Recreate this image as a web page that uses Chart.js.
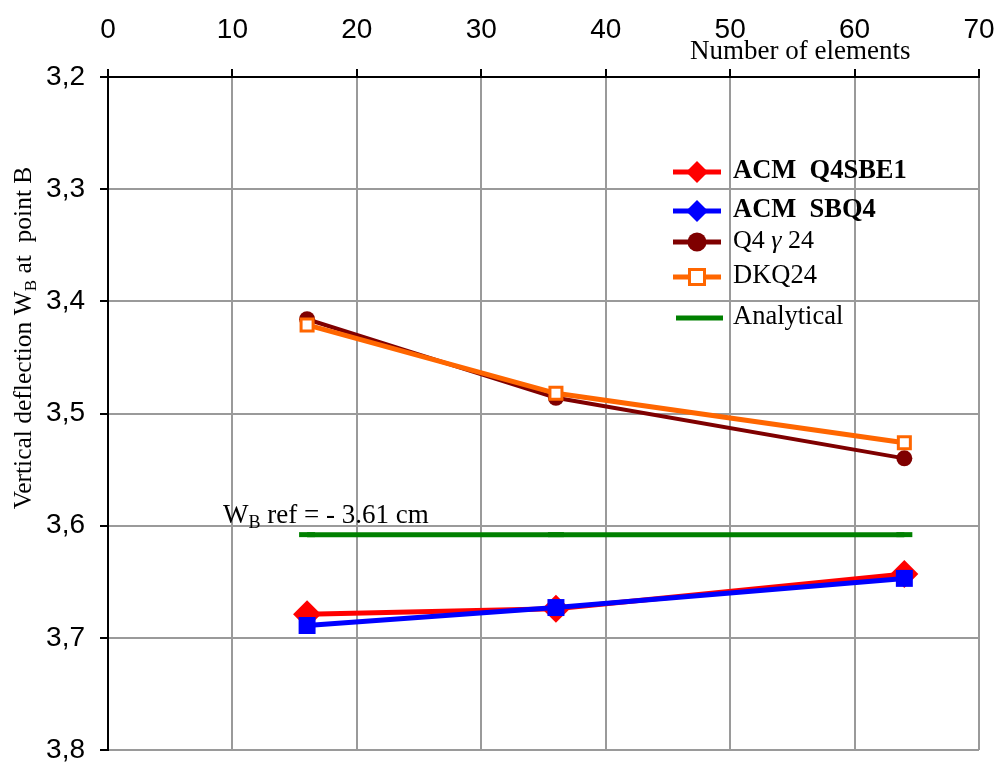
<!DOCTYPE html>
<html><head><meta charset="utf-8">
<script src="https://cdn.jsdelivr.net/npm/chart.js@4"></script>
<style>html,body{margin:0;padding:0;background:#fff}canvas{display:block}</style>
</head><body>
<canvas id="c" width="998" height="764"></canvas>
<script>
// ---- data ----
const elements = [16, 36, 64];
const seriesNames = ['ACM  Q4SBE1', 'ACM  SBQ4', 'Q4 γ 24', 'DKQ24', 'Analytical'];
const acmQ4SBE1 = [3.679, 3.674, 3.643];
const acmSBQ4 = [3.689, 3.673, 3.647];
const q4g24 = [3.416, 3.486, 3.540];
const dkq24 = [3.421, 3.482, 3.526];
const analytical = [3.608, 3.608, 3.608];
const xTickValues = [0, 10, 20, 30, 40, 50, 60, 70];
const yTickLabels = ['3,2', '3,3', '3,4', '3,5', '3,6', '3,7', '3,8'];
const xTitle = 'Number of elements';
const yTitleParts = ['Vertical deflection W', 'B', ' at  point B'];
const refNoteParts = ['W', 'B', ' ref = - 3.61 cm'];

const pts = arr => elements.map((x, i) => ({x: x, y: arr[i]}));
const SERIF = '"Liberation Serif","Times New Roman",serif';
const SANS = '"Liberation Sans",Arial,sans-serif';

const colors = ['#ff0000', '#0000ff', '#7f0000', '#ff6600', '#008000'];

const datasets = [
  {label: seriesNames[0], data: pts(acmQ4SBE1), borderColor: colors[0], backgroundColor: colors[0],
   borderWidth: 5, pointStyle: 'rectRot', pointRadius: 14, pointBorderWidth: 0, order: 5},
  {label: seriesNames[1], data: pts(acmSBQ4), borderColor: colors[1], backgroundColor: colors[1],
   borderWidth: 5, pointStyle: 'rect', pointRadius: 12, pointBorderWidth: 0, order: 4},
  {label: seriesNames[2], data: pts(q4g24), borderColor: colors[2], backgroundColor: colors[2],
   borderWidth: 4, pointStyle: 'circle', pointRadius: 8, pointBorderWidth: 0, order: 3},
  {label: seriesNames[3], data: pts(dkq24), borderColor: colors[3], backgroundColor: '#ffffff',
   pointBorderColor: colors[3], borderWidth: 5, pointStyle: 'rect', pointRadius: 8.5, pointBorderWidth: 3, order: 2},
  {label: seriesNames[4], data: pts(analytical), borderColor: colors[4], backgroundColor: colors[4],
   pointBorderColor: colors[4], borderWidth: 5, pointStyle: 'line', pointRadius: 8, pointBorderWidth: 5, order: 1}
];

function drawRich(ctx, parts, fontSize, subSize, subShift, x, y) {
  let cx = x;
  ctx.font = fontSize + 'px ' + SERIF;
  ctx.fillText(parts[0], cx, y); cx += ctx.measureText(parts[0]).width;
  ctx.font = subSize + 'px ' + SERIF;
  ctx.fillText(parts[1], cx, y + subShift); cx += ctx.measureText(parts[1]).width;
  ctx.font = fontSize + 'px ' + SERIF;
  ctx.fillText(parts[2], cx, y);
}
function richWidth(ctx, parts, fontSize, subSize) {
  ctx.font = fontSize + 'px ' + SERIF;
  let w = ctx.measureText(parts[0]).width + ctx.measureText(parts[2]).width;
  ctx.font = subSize + 'px ' + SERIF;
  return w + ctx.measureText(parts[1]).width;
}

function drawMarker(ctx, style, x, y, color) {
  ctx.save();
  ctx.fillStyle = color; ctx.strokeStyle = color;
  if (style === 'diamond') {
    const r = 11;
    ctx.beginPath(); ctx.moveTo(x, y - r); ctx.lineTo(x + r, y); ctx.lineTo(x, y + r); ctx.lineTo(x - r, y); ctx.closePath(); ctx.fill();
  } else if (style === 'circle') {
    ctx.beginPath(); ctx.arc(x, y, 9.5, 0, Math.PI * 2); ctx.fill();
  } else if (style === 'openSquare') {
    ctx.fillStyle = '#fff'; ctx.lineWidth = 3;
    ctx.fillRect(x - 7.5, y - 7.5, 15, 15); ctx.strokeRect(x - 7.5, y - 7.5, 15, 15);
  }
  ctx.restore();
}

const overlay = {
  id: 'overlay',
  afterDraw(chart) {
    const ctx = chart.ctx;
    ctx.save();
    ctx.fillStyle = '#000';
    ctx.textBaseline = 'alphabetic';
    ctx.textAlign = 'left';
    ctx.font = '27px ' + SERIF;
    ctx.fillText(xTitle, 690, 59);
    drawRich(ctx, refNoteParts, 27, 18, 5, 223, 523);
    ctx.save();
    ctx.translate(31, 338);
    ctx.rotate(-Math.PI / 2);
    const w = richWidth(ctx, yTitleParts, 25.5, 17);
    drawRich(ctx, yTitleParts, 25.5, 17, 5, -w / 2, 0);
    ctx.restore();
    const rows = [172, 211, 242, 277, 318];
    const styles = ['diamond', 'diamond', 'circle', 'openSquare', null];
    for (let i = 0; i < 5; i++) {
      const y = rows[i];
      ctx.strokeStyle = colors[i]; ctx.lineWidth = 5; ctx.lineCap = 'butt';
      ctx.beginPath(); ctx.moveTo(i === 4 ? 676 : 673, y); ctx.lineTo(i === 4 ? 723 : 721, y); ctx.stroke();
      if (styles[i]) drawMarker(ctx, styles[i], 697, y, colors[i]);
      ctx.fillStyle = '#000';
      const bold = i < 2 ? 'bold ' : '';
      const name = seriesNames[i];
      if (name.indexOf('γ') >= 0) {
        const segs = name.split('γ');
        let cx = 733;
        ctx.font = '26px ' + SERIF; ctx.fillText(segs[0], cx, y + 6); cx += ctx.measureText(segs[0]).width;
        ctx.font = 'italic 26px ' + SERIF; ctx.fillText('γ', cx, y + 6); cx += ctx.measureText('γ').width;
        ctx.font = '26px ' + SERIF; ctx.fillText(segs[1], cx, y + 6);
      } else {
        ctx.font = bold + '26.5px ' + SERIF;
        ctx.fillText(name, 733, y + 6);
      }
    }
    ctx.restore();
  }
};

new Chart(document.getElementById('c'), {
  type: 'line',
  data: {datasets: datasets},
  plugins: [overlay],
  options: {
    responsive: false,
    animation: false,
    devicePixelRatio: 1,
    layout: {padding: {left: 0, top: 0, right: 19, bottom: 14}},
    plugins: {legend: {display: false}, tooltip: {enabled: false}},
    scales: {
      x: {
        type: 'linear', position: 'top', min: 0, max: 70,
        afterFit: s => { s.height = 77; s.paddingLeft = 0; s.paddingRight = 0; },
        afterBuildTicks: s => { s.ticks = xTickValues.map(v => ({value: v})); },
        ticks: {color: '#000', font: {family: SANS, size: 28}, padding: 22, maxRotation: 0, autoSkip: false,
                callback: v => String(v)},
        grid: {color: '#9a9a9a', lineWidth: 2, tickColor: '#000', tickLength: 8, drawTicks: true},
        border: {color: '#000', width: 2}
      },
      y: {
        type: 'linear', reverse: true, min: 3.2, max: 3.8,
        afterFit: s => { s.width = 108; s.paddingTop = 0; s.paddingBottom = 0; },
        afterBuildTicks: s => { s.ticks = yTickLabels.map((l, i) => ({value: 3.2 + i * 0.1})); },
        ticks: {color: '#000', font: {family: SANS, size: 28}, padding: 15, autoSkip: false,
                callback: (v, i) => yTickLabels[i]},
        grid: {color: '#9a9a9a', lineWidth: 2, tickColor: '#000', tickLength: 8, drawTicks: true},
        border: {color: '#000', width: 2}
      }
    }
  }
});
</script>
</body></html>
